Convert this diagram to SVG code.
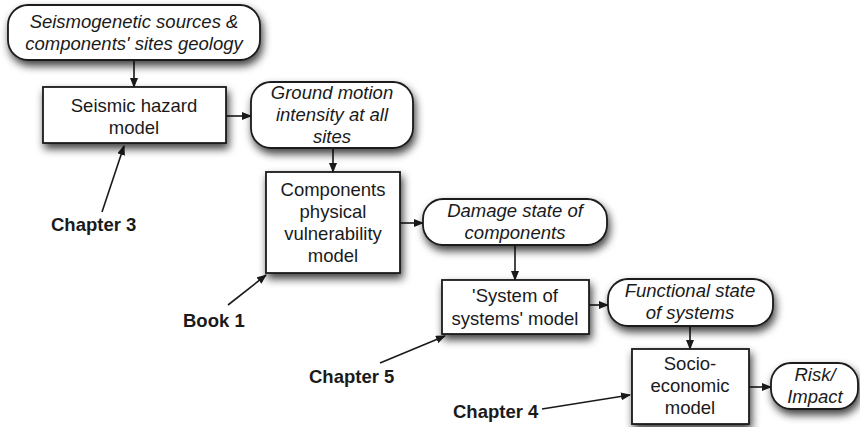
<svg xmlns="http://www.w3.org/2000/svg" width="860" height="427" viewBox="0 0 860 427">
  <defs>
    <filter id="shadow" x="-20%" y="-20%" width="150%" height="170%">
      <feDropShadow dx="2" dy="5" stdDeviation="4" flood-color="#000" flood-opacity="0.75"/>
    </filter>
    <marker id="arrow" markerWidth="10" markerHeight="8" refX="9" refY="4" orient="auto" markerUnits="userSpaceOnUse">
      <path d="M0,0 L10,4 L0,8 Z" fill="#1a1a1a"/>
    </marker>
    <style>
      .box { fill: #fff; stroke: #1a1a1a; stroke-width: 1.8; filter: url(#shadow); }
      .t { font-family: "Liberation Sans", Arial, sans-serif; font-size: 18.5px; fill: #1a1a1a; text-anchor: middle; }
      .i { font-style: italic; }
      .lbl { font-family: "Liberation Sans", Arial, sans-serif; font-size: 18.5px; font-weight: bold; fill: #1a1a1a; }
      .conn line { stroke: #1a1a1a; stroke-width: 1.6; marker-end: url(#arrow); }
    </style>
  </defs>
  <rect width="860" height="427" fill="#fff"/>

  <!-- connectors -->
  <g id="connectors" class="conn">
    <line x1="134" y1="60" x2="134" y2="87"/>
    <line x1="226" y1="116" x2="251" y2="116"/>
    <line x1="333" y1="148" x2="333" y2="172"/>
    <line x1="400" y1="223" x2="423" y2="223"/>
    <line x1="515" y1="245" x2="515" y2="280"/>
    <line x1="589" y1="305" x2="608" y2="305"/>
    <line x1="690" y1="326" x2="690" y2="349"/>
    <line x1="749" y1="387" x2="771" y2="387"/>
    <line x1="102" y1="212" x2="124" y2="146"/>
    <line x1="228" y1="305" x2="266" y2="275"/>
    <line x1="380" y1="363" x2="445" y2="336"/>
    <line x1="542" y1="409" x2="630" y2="395"/>
  </g>

  <!-- nodes -->
  <g id="n-sources">
    <rect class="box" x="8" y="5" width="252" height="55" rx="20"/>
    <text class="t i" x="134" y="28">Seismogenetic sources &amp;</text>
    <text class="t i" x="134" y="50">components' sites geology</text>
  </g>
  <g id="n-hazard">
    <rect class="box" x="43" y="87" width="183" height="56"/>
    <text class="t" x="134" y="112">Seismic hazard</text>
    <text class="t" x="134" y="134">model</text>
  </g>
  <g id="n-ground">
    <rect class="box" x="251" y="82" width="162" height="66" rx="20"/>
    <text class="t i" x="332" y="99">Ground motion</text>
    <text class="t i" x="332" y="121">intensity at all</text>
    <text class="t i" x="332" y="143">sites</text>
  </g>
  <g id="n-components">
    <rect class="box" x="266" y="172" width="134" height="101"/>
    <text class="t" x="333" y="196">Components</text>
    <text class="t" x="333" y="218">physical</text>
    <text class="t" x="333" y="240">vulnerability</text>
    <text class="t" x="333" y="262">model</text>
  </g>
  <g id="n-damage">
    <rect class="box" x="423" y="199" width="184" height="46" rx="20"/>
    <text class="t i" x="515" y="217">Damage state of</text>
    <text class="t i" x="515" y="239">components</text>
  </g>
  <g id="n-system">
    <rect class="box" x="442" y="280" width="147" height="54"/>
    <text class="t" x="515" y="302">'System of</text>
    <text class="t" x="515" y="325">systems' model</text>
  </g>
  <g id="n-functional">
    <rect class="box" x="608" y="279" width="165" height="47" rx="20"/>
    <text class="t i" x="690" y="297">Functional state</text>
    <text class="t i" x="690" y="319">of systems</text>
  </g>
  <g id="n-socio">
    <rect class="box" x="632" y="349" width="117" height="75"/>
    <text class="t" x="690" y="370">Socio-</text>
    <text class="t" x="690" y="392">economic</text>
    <text class="t" x="690" y="414">model</text>
  </g>
  <g id="n-risk">
    <rect class="box" x="771" y="363" width="87" height="46" rx="20"/>
    <text class="t i" x="815" y="381">Risk/</text>
    <text class="t i" x="815" y="403">Impact</text>
  </g>

  <!-- reference labels -->
  <g id="l-ch3"><text class="lbl" x="51" y="231">Chapter 3</text></g>
  <g id="l-book1"><text class="lbl" x="183" y="327">Book 1</text></g>
  <g id="l-ch5"><text class="lbl" x="309" y="383">Chapter 5</text></g>
  <g id="l-ch4"><text class="lbl" x="453" y="418">Chapter 4</text></g>
</svg>
